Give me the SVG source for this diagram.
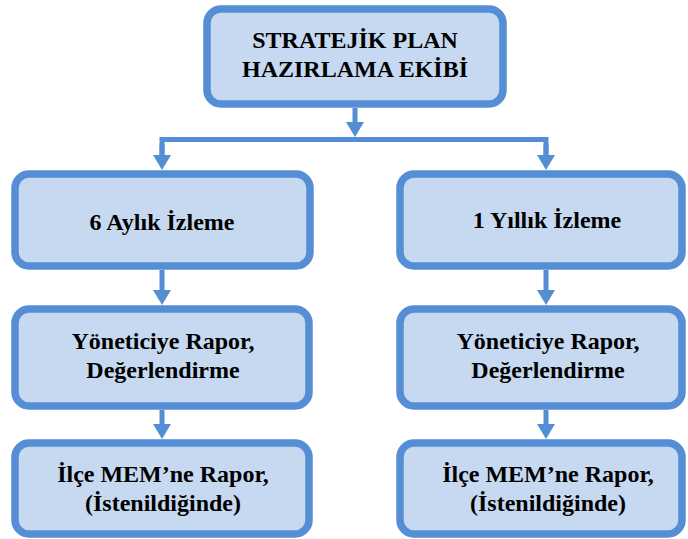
<svg xmlns="http://www.w3.org/2000/svg" width="688" height="539" viewBox="0 0 688 539">
<style>
.box{fill:#C6D9F1;stroke:#558ED5;stroke-width:7.5}
.lbl{font-weight:700;font-size:24px;fill:#000;text-anchor:middle}
.conn{fill:none;stroke:#558ED5;stroke-width:5}
</style>
<defs>
<marker id="ah" markerUnits="userSpaceOnUse" markerWidth="16" markerHeight="18" refX="0" refY="9" orient="auto" overflow="visible">
<path d="M0,0 L15,9 L0,18 z" fill="#558ED5"/>
</marker>
</defs>
<g id="connectors">
<path class="conn" d="M355,108 V122" marker-end="url(#ah)"/>
<path class="conn" d="M162,155 V139.5 H546 V155" />
<path class="conn" d="M162,145 V155" marker-end="url(#ah)"/>
<path class="conn" d="M546,145 V155" marker-end="url(#ah)"/>
<path class="conn" d="M162,270 V290" marker-end="url(#ah)"/>
<path class="conn" d="M546,270 V290" marker-end="url(#ah)"/>
<path class="conn" d="M162,410 V424" marker-end="url(#ah)"/>
<path class="conn" d="M546,410 V424" marker-end="url(#ah)"/>
</g>
<g font-family="Liberation Serif, Times New Roman, serif">
<g id="n-top">
<rect class="box" x="207" y="9" width="296" height="95" rx="14"/>
<text class="lbl" x="355" y="48">STRATEJİK PLAN</text>
<text class="lbl" x="355" y="77">HAZIRLAMA EKİBİ</text>
</g>
<g id="n-6ay">
<rect class="box" x="15" y="174" width="295" height="92" rx="14"/>
<text class="lbl" x="162" y="230">6 Aylık İzleme</text>
</g>
<g id="n-1yil">
<rect class="box" x="400" y="174" width="282" height="92" rx="14"/>
<text class="lbl" x="547" y="228">1 Yıllık İzleme</text>
</g>
<g id="n-yon-l">
<rect class="box" x="15" y="309" width="294" height="97" rx="14"/>
<text class="lbl" x="163" y="349">Yöneticiye Rapor,</text>
<text class="lbl" x="163" y="378">Değerlendirme</text>
</g>
<g id="n-yon-r">
<rect class="box" x="400" y="309" width="282" height="97" rx="14"/>
<text class="lbl" x="548" y="349">Yöneticiye Rapor,</text>
<text class="lbl" x="548" y="378">Değerlendirme</text>
</g>
<g id="n-ilce-l">
<rect class="box" x="15" y="443" width="294" height="91" rx="14"/>
<text class="lbl" x="163" y="482">İlçe MEM’ne Rapor,</text>
<text class="lbl" x="163" y="511">(İstenildiğinde)</text>
</g>
<g id="n-ilce-r">
<rect class="box" x="400" y="443" width="282" height="91" rx="14"/>
<text class="lbl" x="548" y="482">İlçe MEM’ne Rapor,</text>
<text class="lbl" x="548" y="511">(İstenildiğinde)</text>
</g>
</g>
</svg>
